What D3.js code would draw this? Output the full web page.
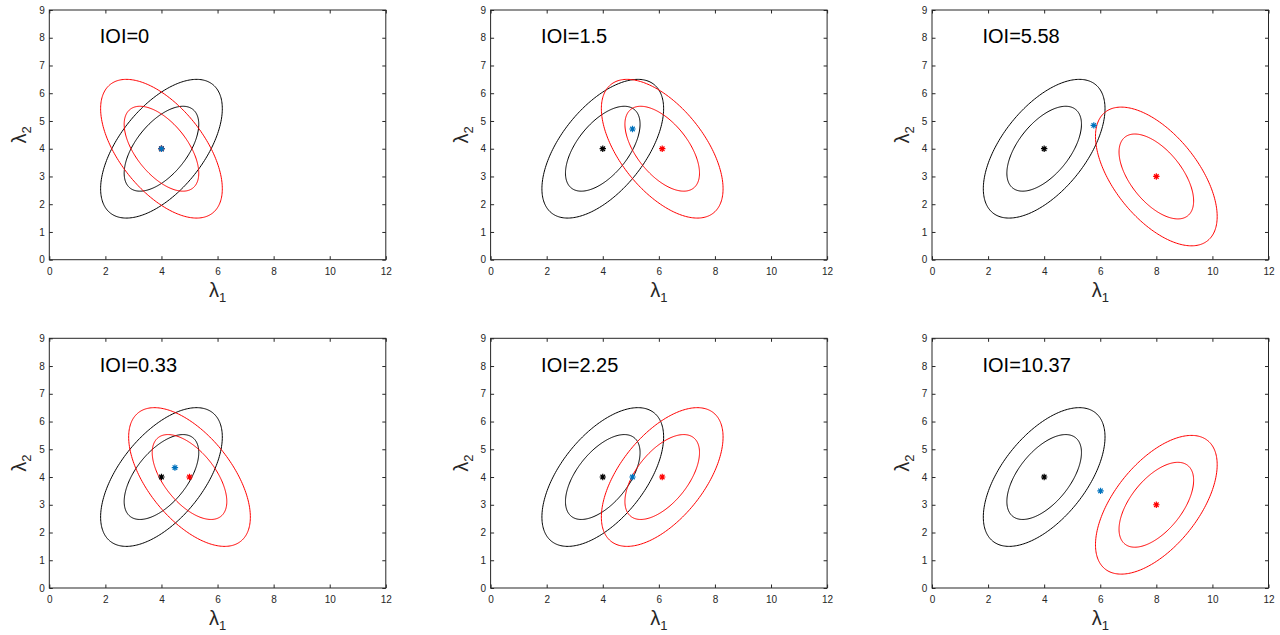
<!DOCTYPE html>
<html>
<head>
<meta charset="utf-8">
<script src="https://cdn.jsdelivr.net/npm/d3@7"></script>
<style>
  html, body { margin: 0; padding: 0; background: #fff; }
  svg { display: block; }
  .tick text { font-family: "Liberation Sans", Arial, sans-serif; font-size: 10px; fill: #262626; }
  .tick line { stroke: #262626; }
  .domain { stroke: none; }
</style>
</head>
<body>
<svg id="chart" width="1280" height="635"></svg>
<script>
// ---------- data ----------
const panelTitles = ["IOI=0", "IOI=1.5", "IOI=5.58", "IOI=0.33", "IOI=2.25", "IOI=10.37"];
const blackCenters = [[4, 4], [4, 4], [4, 4], [4, 4], [4, 4], [4, 4]];
const redCenters = [[4, 4], [6.12, 4], [8, 3], [5, 4], [6.12, 4], [8, 3]];
const blueStars = [[4, 4], [5.06, 4.71], [5.77, 4.84], [4.48, 4.34], [5.06, 4.0], [6.01, 3.5]];
const blackRho = [0.577, 0.577, 0.577, 0.577, 0.577, 0.577];
const redRho = [-0.577, -0.577, -0.577, -0.577, 0.577, 0.577];
// contour half-extents along λ1 and λ2 (outer, inner)
const contourHalfX = [2.17, 1.33];
const contourHalfY = [2.5, 1.53];
const xTicks = [0, 2, 4, 6, 8, 10, 12];
const yTicks = [0, 1, 2, 3, 4, 5, 6, 7, 8, 9];
const titlePos = [1.8, 7.8];

// ---------- layout ----------
const svg = d3.select("#chart");
const W = 336.5, H = 249.7;
const lefts = [49.3, 490.6, 932];
const tops = [10, 338.3];
const axisColor = "#262626";

function ellipsePoints(c, hx, hy, rho) {
  const n = 240, s = Math.sqrt(1 - rho * rho);
  return d3.range(n).map(i => {
    const t = 2 * Math.PI * i / n;
    return [c[0] + hx * Math.cos(t), c[1] + hy * (rho * Math.cos(t) + s * Math.sin(t))];
  });
}

function starPath(r) {
  const d = r * Math.SQRT1_2;
  return `M${-r},0L${r},0M0,${-r}L0,${r}M${-d},${-d}L${d},${d}M${-d},${d}L${d},${-d}`;
}

panelTitles.forEach((title, i) => {
  const col = i % 3, row = Math.floor(i / 3);
  const g = svg.append("g").attr("transform", `translate(${lefts[col]},${tops[row]})`);
  const x = d3.scaleLinear().domain([0, 12]).range([0, W]);
  const y = d3.scaleLinear().domain([0, 9]).range([H, 0]);

  // axes (ticks inward on all four sides)
  g.append("g").attr("transform", `translate(0,${H})`)
    .call(d3.axisBottom(x).tickValues(xTicks).tickSizeInner(-3.5).tickSizeOuter(0).tickPadding(8));
  g.append("g")
    .call(d3.axisLeft(y).tickValues(yTicks).tickSizeInner(-3.5).tickSizeOuter(0).tickPadding(4.6));
  g.append("g")
    .call(d3.axisTop(x).tickValues(xTicks).tickSizeInner(-3.5).tickSizeOuter(0).tickFormat(""));
  g.append("g").attr("transform", `translate(${W},0)`)
    .call(d3.axisRight(y).tickValues(yTicks).tickSizeInner(-3.5).tickSizeOuter(0).tickFormat(""));
  g.append("rect").attr("x", 0).attr("y", 0).attr("width", W).attr("height", H)
    .attr("fill", "none").attr("stroke", axisColor).attr("stroke-width", 1);

  const line = d3.line().x(d => x(d[0])).y(d => y(d[1])).curve(d3.curveLinearClosed);

  // black contours
  contourHalfX.forEach((hx, k) => {
    g.append("path").attr("d", line(ellipsePoints(blackCenters[i], hx, contourHalfY[k], blackRho[i])))
      .attr("fill", "none").attr("stroke", "#000").attr("stroke-width", 1);
  });
  // red contours
  contourHalfX.forEach((hx, k) => {
    g.append("path").attr("d", line(ellipsePoints(redCenters[i], hx, contourHalfY[k], redRho[i])))
      .attr("fill", "none").attr("stroke", "#ff0000").attr("stroke-width", 1);
  });

  // markers
  const marks = [[blackCenters[i], "#000"], [redCenters[i], "#ff0000"], [blueStars[i], "#0072bd"]];
  marks.forEach(([p, c]) => {
    g.append("path").attr("d", starPath(3.2))
      .attr("transform", `translate(${x(p[0])},${y(p[1])})`)
      .attr("stroke", c).attr("stroke-width", 1.2).attr("fill", "none");
  });

  // title text
  g.append("text").attr("x", x(titlePos[0])).attr("y", y(titlePos[1]))
    .attr("font-family", "Liberation Sans, Arial, sans-serif").attr("font-size", 20)
    .attr("fill", "#000").text(title);

  // axis labels
  const xl = g.append("text").attr("x", W / 2).attr("y", H + 37)
    .attr("text-anchor", "middle").attr("font-family", "Liberation Sans, Arial, sans-serif")
    .attr("font-size", 20).attr("fill", "#262626");
  xl.append("tspan").text("λ");
  xl.append("tspan").attr("font-size", 13).attr("dy", 5).text("1");

  const yl = g.append("text")
    .attr("transform", `translate(-23,${H / 2}) rotate(-90)`)
    .attr("text-anchor", "middle").attr("font-family", "Liberation Sans, Arial, sans-serif")
    .attr("font-size", 20).attr("fill", "#262626");
  yl.append("tspan").text("λ");
  yl.append("tspan").attr("font-size", 13).attr("dy", 5).text("2");
});
</script>
</body>
</html>
